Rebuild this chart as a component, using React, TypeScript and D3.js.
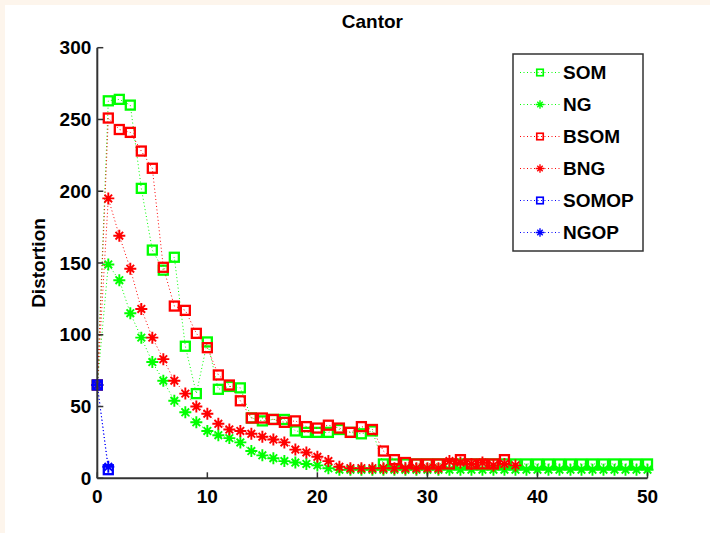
import React from "react";
import * as d3 from "d3";

const xTicks = [0, 10, 20, 30, 40, 50];
const yTicks = [0, 50, 100, 150, 200, 250, 300];

const somValues = [65, 263, 264, 260, 202, 159, 145, 154, 92, 59, 95, 62, 64, 63, 42, 40, 41, 41, 33, 32, 32, 32, 34, 32, 31, 33, 10, 10, 10, 10, 10, 10, 10, 10, 10, 10, 10, 10, 10, 10, 10, 10, 10, 10, 10, 10, 10, 10, 10, 10, 10];
const ngValues = [65, 149, 138, 115, 98, 81, 68, 54, 46, 39, 33, 30, 28, 25, 19, 16, 14, 12, 11, 10, 9, 7, 6, 6, 6, 6, 6, 6, 6, 6, 6, 6, 6, 6, 6, 6, 6, 6, 6, 6, 6, 6, 6, 6, 6, 6, 6, 6, 6, 6, 6];
const bsomValues = [65, 251, 243, 241, 228, 216, 147, 120, 117, 101, 91, 72, 65, 54, 42, 42, 41, 39, 40, 36, 35, 37, 35, 32, 36, 34, 19, 13, 11, 10, 10, 10, 10, 13, 10, 10, 10, 13];
const bngValues = [65, 195, 169, 146, 118, 98, 83, 68, 59, 50, 45, 38, 34, 33, 31, 29, 27, 25, 20, 18, 15, 12, 8, 7, 7, 7, 7, 7, 7, 7, 7, 7, 12, 11, 10, 11, 9, 10, 9];
const somopValues = [65, 6];
const ngopValues = [65, 8];

const seriesNames = ["SOM", "NG", "BSOM", "BNG", "SOMOP", "NGOP"];
const seriesData = [somValues, ngValues, bsomValues, bngValues, somopValues, ngopValues];
const seriesColors = ["#00ff00", "#00ff00", "#ff0000", "#ff0000", "#0000ff", "#0000ff"];
const seriesMarkers = ["square", "star", "square", "star", "square", "star"];

const W = 710;
const H = 533;
const FONT = "'Liberation Sans', Arial, Helvetica, sans-serif";

function Marker({ type, color, x, y, s }: { type: string; color: string; x: number; y: number; s: number }) {
  if (type === "square") {
    const side = 9 * s;
    return (
      <rect x={x - side / 2} y={y - side / 2} width={side} height={side} fill="none" stroke={color} strokeWidth={2.3 * s} />
    );
  }
  const a = 6 * s;
  const b = 3.8 * s;
  return (
    <path
      d={`M${x - a},${y}H${x + a}M${x},${y - a}V${y + a}M${x - b},${y - b}L${x + b},${y + b}M${x - b},${y + b}L${x + b},${y - b}`}
      stroke={color}
      strokeWidth={1.9 * s}
      fill="none"
    />
  );
}

export default function App() {
  const xs = d3.scaleLinear().domain([0, 50]).range([97.3, 647.5]);
  const ys = d3.scaleLinear().domain([0, 300]).range([478.3, 47.7]);
  const line = d3
    .line<number>()
    .x((_, i) => xs(i))
    .y((d) => ys(d));

  const x0 = xs(0);
  const y0 = ys(0);

  const legendX = 513;
  const legendY = 54;
  const legendW = 130;
  const legendH = 197;

  return (
    <svg width={W} height={H} style={{ position: "absolute", left: 0, top: 0 }} fontFamily={FONT}>
      <rect x={0} y={0} width={W} height={H} fill="#fdf5ec" />
      <rect x={5} y={5} width={W - 5} height={H - 5} fill="#ffffff" />

      {seriesData.map((vals, si) => (
        <g key={seriesNames[si]}>
          <path d={line(vals) || ""} fill="none" stroke={seriesColors[si]} strokeWidth={1} strokeDasharray="1 2.5" />
          {vals.map((v, i) => (
            <Marker key={i} type={seriesMarkers[si]} color={seriesColors[si]} x={xs(i)} y={ys(v)} s={1} />
          ))}
        </g>
      ))}

      <line x1={x0} y1={ys(300)} x2={x0} y2={y0} stroke="#333" strokeWidth={2} />
      <line x1={x0} y1={y0} x2={xs(50)} y2={y0} stroke="#333" strokeWidth={2} />
      {yTicks.map((t) => (
        <g key={"y" + t}>
          <line x1={x0} x2={x0 + 6} y1={ys(t)} y2={ys(t)} stroke="#333" strokeWidth={1.5} />
          <text x={x0 - 6} y={ys(t)} dy="0.35em" textAnchor="end" fontSize={19} fontWeight="bold" fill="#000">
            {t}
          </text>
        </g>
      ))}
      {xTicks.map((t) => (
        <g key={"x" + t}>
          <line x1={xs(t)} x2={xs(t)} y1={y0} y2={y0 - 6} stroke="#333" strokeWidth={1.5} />
          <text x={xs(t)} y={y0 + 25} textAnchor="middle" fontSize={19} fontWeight="bold" fill="#000">
            {t}
          </text>
        </g>
      ))}

      <text x={(xs(0) + xs(50)) / 2} y={28} textAnchor="middle" fontSize={19} fontWeight="bold" fill="#000">
        Cantor
      </text>
      <text
        transform={`translate(45,${(ys(0) + ys(300)) / 2}) rotate(-90)`}
        textAnchor="middle"
        fontSize={19}
        fontWeight="bold"
        fill="#000"
      >
        Distortion
      </text>

      <rect x={legendX} y={legendY} width={legendW} height={legendH} fill="#fff" stroke="#333" strokeWidth={1.5} />
      {seriesNames.map((name, i) => {
        const cy = 72.5 + i * 32;
        return (
          <g key={"lg" + name}>
            <line x1={520} x2={560} y1={cy} y2={cy} stroke={seriesColors[i]} strokeWidth={1} strokeDasharray="1 2.5" />
            <Marker type={seriesMarkers[i]} color={seriesColors[i]} x={540} y={cy} s={0.72} />
            <text x={563} y={cy} dy="0.36em" fontSize={19} fontWeight="bold" fill="#000">
              {name}
            </text>
          </g>
        );
      })}
    </svg>
  );
}
